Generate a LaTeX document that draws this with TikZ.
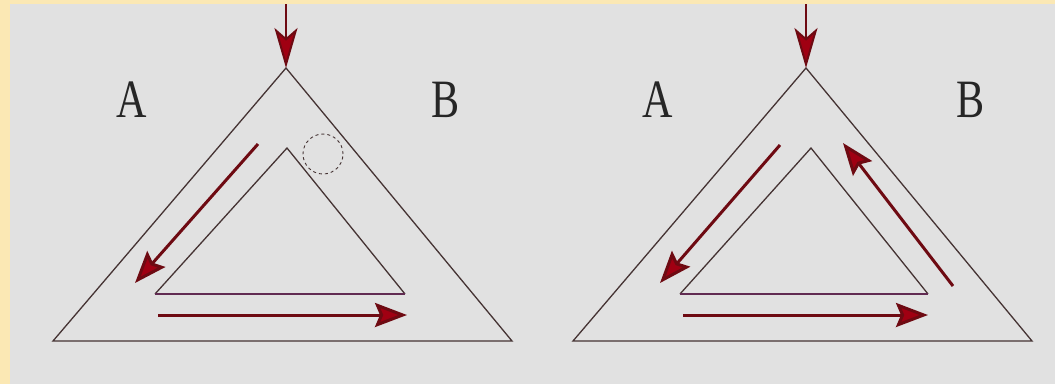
\documentclass[tikz,border=0pt]{standalone}
\usepackage{graphicx}
\usepackage{fontspec}
\newfontfamily\lblfont{Liberation Serif}
\usetikzlibrary{arrows.meta}
\definecolor{bgyel}{HTML}{FBE8B4}
\definecolor{bggray}{HTML}{E1E1E1}
\definecolor{tri}{HTML}{453333}
\definecolor{arr}{HTML}{6E0A12}
\definecolor{arrhead}{HTML}{A00012}
\tikzset{
  triline/.style={draw=tri, line width=1.3pt, line join=miter},
  baseline2/.style={draw=tri!85!magenta, line width=2.4pt},
  flow/.style={draw=arr, line width=3pt,
    -{Stealth[length=32pt, width=24pt, inset=5pt, fill=arrhead]}},
  inflow/.style={draw=arr, line width=2pt,
    -{Stealth[length=40pt, width=23pt, inset=10pt, fill=arrhead]}},
  lbl/.style={font=\lblfont\fontsize{54}{60}\selectfont, text=black!85, inner sep=0pt}
}
\begin{document}
\begin{tikzpicture}[x=1pt, y=-1pt]
\fill[bgyel] (0,0) rectangle (1055,384);
\fill[bggray] (10,4) rectangle (1055,384);
\useasboundingbox (0,0) rectangle (1055,384);

% ---------- left figure ----------
\coordinate (lTop) at (286,4);
\coordinate (lO) at (286,68);
\coordinate (lOL) at (53,341);
\coordinate (lOR) at (512,341);
\coordinate (lI) at (287,148);
\coordinate (lIL) at (155,294);
\coordinate (lIR) at (405,294);
\coordinate (lA1) at (258,144);
\coordinate (lA2) at (135,283);
\coordinate (lB1) at (158,315);
\coordinate (lB2) at (407,315);
\coordinate (lC) at (323,154);

\draw[triline] (lOL) -- (lO) -- (lOR) -- cycle;
\draw[triline] (lIL) -- (lI) -- (lIR);
\draw[baseline2] (lIL) -- (lIR);
\draw[inflow] (lTop) -- (lO);
\draw[flow] (lA1) -- (lA2);
\draw[flow] (lB1) -- (lB2);
\node[draw=tri, dashed, line width=0.9pt, circle, minimum size=40pt, inner sep=0pt] (lCirc) at (lC) {};
\node[lbl] (lAl) at (132,100) {\scalebox{0.78}[1]{A}};
\node[lbl] (lBl) at (446,100) {\scalebox{0.78}[1]{B}};

% ---------- right figure ----------
\coordinate (rTop) at (806,4);
\coordinate (rO) at (806,68);
\coordinate (rOL) at (573,341);
\coordinate (rOR) at (1032,341);
\coordinate (rI) at (811,148);
\coordinate (rIL) at (680,294);
\coordinate (rIR) at (928,294);
\coordinate (rA1) at (780,145);
\coordinate (rA2) at (660,283);
\coordinate (rR1) at (953,286);
\coordinate (rR2) at (843,143);
\coordinate (rB1) at (683,315);
\coordinate (rB2) at (928,315);

\draw[triline] (rOL) -- (rO) -- (rOR) -- cycle;
\draw[triline] (rIL) -- (rI) -- (rIR);
\draw[baseline2] (rIL) -- (rIR);
\draw[inflow] (rTop) -- (rO);
\draw[flow] (rA1) -- (rA2);
\draw[flow] (rR1) -- (rR2);
\draw[flow] (rB1) -- (rB2);
\node[lbl] (rAl) at (658,100) {\scalebox{0.78}[1]{A}};
\node[lbl] (rBl) at (971,100) {\scalebox{0.78}[1]{B}};
\end{tikzpicture}
\end{document}
